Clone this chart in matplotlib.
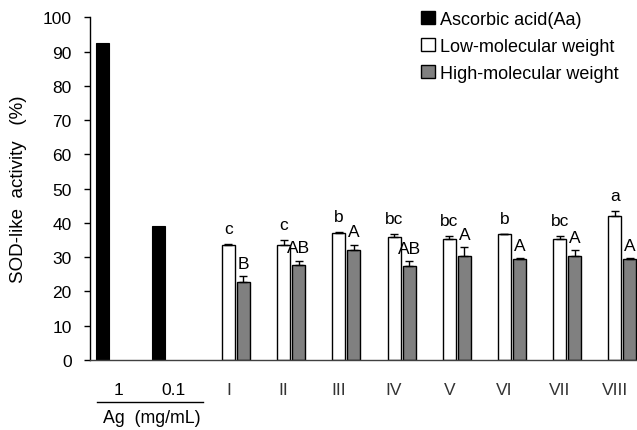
import numpy as np
import matplotlib
matplotlib.use("Agg")
from matplotlib import pyplot as plt
from matplotlib.patches import Patch

plt.rcParams['font.family'] = ['Liberation Sans', 'DejaVu Sans']

# data
categories = ["1", "0.1", "I", "II", "III", "IV", "V", "VI", "VII", "VIII"]
ascorbic = [92.4, 39.1]                      # first two categories
low_mw = [33.5, 33.6, 37.2, 36.0, 35.4, 36.7, 35.4, 42.1]
low_err = [0.3, 1.4, 0.2, 0.7, 0.8, 0.1, 0.8, 1.4]
high_mw = [22.8, 27.7, 32.1, 27.5, 30.4, 29.6, 30.4, 29.6]
high_err = [1.6, 1.3, 1.6, 1.4, 2.5, 0.1, 1.7, 0.1]
low_letters = ["c", "c", "b", "bc", "bc", "b", "bc", "a"]
high_letters = ["B", "AB", "A", "AB", "A", "A", "A", "A"]

fig = plt.figure(figsize=(6.37, 4.31), dpi=100)
ax = fig.add_axes([0.1413, 0.1624, 0.8587, 0.7951])

x = np.arange(len(categories))
xa = x[:2]
xs = x[2:]
w = 0.235
off = 0.272

ax.bar(xa - off, ascorbic, width=w, color="black", edgecolor="black", linewidth=0.8)
ax.bar(xs, low_mw, width=w, color="white", edgecolor="black", linewidth=1.0)
ax.bar(xs + off, high_mw, width=w, color="#808080", edgecolor="black", linewidth=1.0)

ax.errorbar(xs, low_mw, yerr=[np.zeros(len(low_err)), low_err], fmt="none",
            ecolor="black", elinewidth=1.0, capsize=3, capthick=1.0)
ax.errorbar(xs + off, high_mw, yerr=[np.zeros(len(high_err)), high_err], fmt="none",
            ecolor="black", elinewidth=1.0, capsize=3, capthick=1.0)

# significance letters
for xi, v, e, t in zip(xs, low_mw, low_err, low_letters):
    ax.annotate(t, (xi, v + e), xytext=(0, 8), textcoords="offset points",
                ha="center", va="baseline", fontsize=12.5)
for xi, v, e, t in zip(xs + off, high_mw, high_err, high_letters):
    ax.annotate(t, (xi, v + e), xytext=(0, 6), textcoords="offset points",
                ha="center", va="baseline", fontsize=12.5)

ax.set_ylim(0, 100)
ax.set_xlim(-0.507, 9.40)
ax.set_yticks(np.arange(0, 101, 10))
ax.tick_params(axis="y", direction="out", length=4.3, width=1, pad=9, labelsize=12.5)
ax.set_xticks(x)
ax.set_xticklabels(categories)
ax.tick_params(axis="x", length=0, pad=16, labelsize=12.5)
for lab in ax.get_xticklabels()[2:]:
    lab.set_color("#333333")
ax.spines["top"].set_visible(False)
ax.spines["right"].set_visible(False)
ax.spines["left"].set_linewidth(1.0)
ax.spines["bottom"].set_linewidth(1.0)
ax.spines["bottom"].set_color("#404040")
ax.set_ylabel("SOD-like  activity   (%)", fontsize=13.5, labelpad=11)

# bracket under the ascorbic acid concentrations
ax.plot([-0.38, 1.54], [-0.122, -0.122], color="black", lw=1.0,
        transform=ax.get_xaxis_transform(), clip_on=False)
ax.text(0.61, -0.167, "Ag  (mg/mL)", transform=ax.get_xaxis_transform(),
        ha="center", va="center", fontsize=12.8)

handles = [Patch(facecolor="black", edgecolor="black", label="Ascorbic acid(Aa)"),
           Patch(facecolor="white", edgecolor="black", label="Low-molecular weight"),
           Patch(facecolor="#808080", edgecolor="black", label="High-molecular weight")]
fig.legend(handles=handles, loc="upper left", bbox_to_anchor=(421 / 637, 1 - 12 / 431),
           frameon=False, fontsize=13, handlelength=0.75, handleheight=0.75,
           handletextpad=0.3, labelspacing=0.55, borderaxespad=0, borderpad=0)

fig.savefig("out.png", dpi=100)
